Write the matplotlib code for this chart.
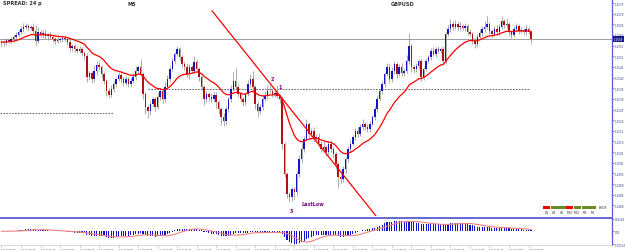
import numpy as np
import pandas as pd
import matplotlib
matplotlib.use('Agg')
import matplotlib.pyplot as plt
from matplotlib.patches import Rectangle

W, H = 625, 253
BASE = 1.25

# GBPUSD M5 closes, in points (0.00001) above BASE
close_pts = [567, 562, 576, 572, 581, 590, 600, 614, 628, 637,
             642, 633, 637, 618, 572, 614, 600, 609, 595, 600,
             590, 581, 572, 576, 581, 586, 581, 567, 539, 548,
             534, 525, 534, 515, 501, 402, 421, 393, 431, 459,
             449, 416, 384, 337, 318, 346, 369, 393, 412, 393,
             374, 393, 369, 384, 402, 431, 449, 416, 322, 261,
             243, 276, 299, 261, 309, 337, 299, 355, 393, 440,
             478, 510, 534, 497, 464, 449, 416, 449, 431, 473,
             440, 402, 355, 299, 322, 309, 299, 318, 285, 252,
             215, 196, 252, 299, 346, 384, 355, 322, 299, 285,
             322, 369, 393, 355, 276, 243, 261, 299, 313, 337,
             337, 322, 327, 313, 299, 88, -53, -147, -161, -124,
             -138, -53, 17, 64, 111, 182, 135, 149, 111, 121,
             88, 64, 73, 51, 88, 64, 41, -6, -68, -77,
             -30, 17, 64, 88, 120, 149, 135, 168, 182, 168,
             158, 182, 215, 252, 299, 337, 369, 416, 449, 393,
             431, 463, 416, 449, 421, 431, 478, 548, 449, 440,
             454, 478, 402, 440, 478, 497, 525, 510, 534, 525,
             534, 478, 604, 628, 651, 637, 651, 637, 642, 633,
             642, 614, 604, 572, 557, 590, 609, 628, 637, 651,
             618, 604, 628, 614, 637, 665, 646, 651, 614, 600,
             628, 642, 618, 623, 614, 628, 614, 581]
first_open_pts = 560

# upper / lower wick length in points
up_pts = [10, 8, 12, 6, 10, 8, 12, 10, 15, 20,
          15, 10, 12, 20, 30, 25, 12, 15, 20, 10,
          12, 8, 10, 25, 10, 12, 8, 10, 15, 10,
          10, 8, 15, 10, 12, 15, 10, 12, 30, 20,
          15, 10, 8, 10, 12, 20, 15, 10, 12, 8,
          10, 12, 8, 15, 20, 25, 10, 40, 10, 12,
          10, 15, 12, 10, 20, 15, 12, 25, 20, 15,
          15, 12, 15, 10, 8, 12, 20, 15, 12, 30,
          15, 10, 12, 8, 15, 10, 20, 12, 15, 8,
          10, 20, 15, 12, 20, 40, 60, 15, 10, 12,
          12, 20, 25, 40, 10, 12, 15, 20, 25, 30,
          30, 15, 20, 40, 10, 15, 10, 8, 12, 10,
          10, 15, 20, 30, 15, 25, 10, 15, 20, 15,
          20, 15, 30, 10, 15, 20, 10, 8, 10, 15,
          15, 10, 15, 20, 10, 15, 20, 15, 25, 10,
          15, 12, 10, 15, 20, 10, 15, 12, 20, 15,
          20, 15, 10, 15, 20, 10, 30, 60, 10, 12,
          15, 10, 12, 10, 15, 10, 12, 20, 10, 12,
          10, 15, 12, 20, 25, 15, 20, 15, 20, 10,
          12, 10, 15, 10, 12, 15, 20, 12, 30, 40,
          12, 10, 15, 20, 15, 25, 10, 30, 12, 10,
          15, 12, 10, 15, 10, 20, 15, 10]
dn_pts = [10, 12, 8, 10, 8, 12, 10, 8, 10, 12,
          10, 12, 10, 15, 20, 12, 10, 15, 12, 20,
          10, 12, 15, 10, 8, 12, 10, 15, 20, 12,
          15, 12, 10, 15, 20, 25, 15, 20, 12, 20,
          15, 20, 12, 25, 15, 10, 12, 15, 10, 20,
          15, 10, 12, 15, 10, 12, 15, 10, 25, 30,
          35, 20, 15, 20, 10, 15, 20, 12, 10, 15,
          10, 12, 8, 15, 20, 15, 12, 25, 10, 15,
          12, 20, 15, 30, 15, 20, 15, 12, 30, 25,
          40, 25, 20, 15, 12, 10, 15, 12, 15, 20,
          15, 10, 12, 20, 25, 30, 15, 12, 10, 15,
          10, 12, 15, 10, 20, 25, 15, 20, 25, 20,
          30, 20, 15, 12, 15, 10, 20, 15, 12, 15,
          12, 15, 10, 20, 15, 12, 20, 25, 50, 20,
          15, 20, 12, 15, 10, 12, 15, 10, 12, 15,
          12, 15, 10, 12, 15, 10, 12, 15, 10, 20,
          15, 12, 20, 10, 15, 12, 10, 15, 25, 20,
          12, 15, 20, 15, 10, 12, 15, 10, 12, 10,
          12, 20, 15, 10, 12, 15, 10, 12, 15, 10,
          15, 12, 10, 15, 20, 12, 10, 15, 12, 10,
          12, 15, 10, 12, 15, 10, 12, 15, 20, 12,
          10, 15, 12, 10, 15, 12, 10, 25]

start_time = '2019-07-17 06:00'
label_every = 8

bid_level = 1.25581
level_hi = 1.25346
level_lo = 1.25233
trend_x = [86.3, 153.5]
trend_y = [1.25713, 1.24750]

price_ticks = [1.2575, 1.2570, 1.2565, 1.2560, 1.2555, 1.2550, 1.2545,
               1.2540, 1.2535, 1.2530, 1.2525, 1.2520, 1.2515, 1.2510,
               1.2505, 1.2500, 1.2495, 1.2490, 1.2485, 1.2480]

tf_names = ['D1', 'H4', 'H1', 'M30', 'M15', 'M5', 'M1']
tf_colors = ['#ff0000', '#6b8e23', '#6b8e23', '#ff0000', '#6b8e23', '#6b8e23', '#6b8e23']

BULL = '#1414c8'
BEAR = '#b01010'
FRAME = '#5a5ad2'

c = BASE + np.array(close_pts) / 1e5
o = np.r_[BASE + first_open_pts / 1e5, c[:-1]]
hi = np.maximum(o, c) + np.array(up_pts) / 1e5
lo = np.minimum(o, c) - np.array(dn_pts) / 1e5
idx = np.arange(len(c))

s = pd.Series(c)
ma = s.ewm(span=20, adjust=False).mean()
macd = s.ewm(span=12, adjust=False).mean() - s.ewm(span=26, adjust=False).mean()
signal = macd.rolling(9, min_periods=1).mean()


def fx(px):
    return px / W


def fy(py):
    return 1 - py / H


def bar_x(px):
    return (px - 1.5) / 2.44


def pts_y(py):
    return 1.257688 - py * 0.00004695


fig = plt.figure(figsize=(W / 100, H / 100), dpi=100)
ax = fig.add_axes([0, fy(217), fx(612), 217 / H])
ax2 = fig.add_axes([0, fy(246), fx(612), 27.5 / H])

xmin, xmax = -0.61, bar_x(612)

# candles
ax.vlines(idx, lo, hi, color='#8c8c8c', lw=0.5, zorder=2)
body = c - o
body = np.where(np.abs(body) < 0.00002, 0.00002, body)
cols = [BULL if cc >= oo else BEAR for oo, cc in zip(o, c)]
ax.bar(idx, body, bottom=o, width=0.62, color=cols, linewidth=0, zorder=3)

ax.plot(idx, ma, color='#ff0000', lw=0.9, zorder=4)
ax.axhline(bid_level, color='#a0a0a0', lw=0.7, zorder=1)
ax.hlines(level_hi, bar_x(148), bar_x(530), color='#505050', lw=0.6,
          linestyles=(0, (2, 1.5)), zorder=1)
ax.hlines(level_lo, xmin, bar_x(113), color='#505050', lw=0.6,
          linestyles=(0, (2, 1.5)), zorder=1)
ax.plot(trend_x, trend_y, color='#ff0000', lw=0.9, zorder=5)

ax.set_xlim(xmin, xmax)
ax.set_ylim(pts_y(217), pts_y(0))
ax.yaxis.tick_right()
ax.set_yticks(price_ticks)
ax.set_yticklabels(['%.4f' % p for p in price_ticks])
ax.tick_params(axis='y', labelsize=2.0, colors=FRAME, length=1.5, width=0.5, pad=0.6,
               labelcolor='#3a3a8a')
ax.set_xticks([])
for sp in ['left', 'top', 'bottom']:
    ax.spines[sp].set_visible(False)
ax.spines['right'].set_color(FRAME)
ax.spines['right'].set_linewidth(0.9)

ax.text(bar_x(272), pts_y(80), '2', color='#800080', fontsize=3.5, fontweight='bold',
        ha='center', va='center')
ax.text(bar_x(280), pts_y(88), '1', color='#800080', fontsize=3.5, fontweight='bold',
        ha='center', va='center')
ax.text(bar_x(291), pts_y(212), '3', color='#800080', fontsize=3.5, fontweight='bold',
        ha='center', va='center')
ax.text(bar_x(302), pts_y(205), 'LastLow', color='#800080', fontsize=3.5,
        fontweight='bold', ha='left', va='center')

# current price box
ax.text(1.003, bid_level, '%.4f' % bid_level, transform=ax.get_yaxis_transform(),
        fontsize=2.0, color='white', ha='left', va='center',
        bbox=dict(boxstyle='square,pad=0.3', fc='#1a1a8a', ec='none'))

fig.text(fx(3), fy(4), 'SPREAD: 24 p', fontsize=3.6, fontweight='bold', color='#303030',
         ha='left', va='center')
fig.text(fx(127), fy(4), 'M5', fontsize=3.6, fontweight='bold', color='#303030',
         ha='left', va='center')
fig.text(fx(391), fy(4), 'GBPUSD', fontsize=3.6, fontweight='bold', color='#303030',
         ha='left', va='center')

# timeframe trend boxes
bx = 543
for name, col in zip(tf_names, tf_colors):
    fig.patches.append(Rectangle((fx(bx), fy(209.5)), fx(7.2), 2.5 / H,
                                 transform=fig.transFigure, fc=col, ec='none'))
    fig.text(fx(bx + 3.6), fy(213), name, fontsize=2.2, color='#303030',
             ha='center', va='center')
    bx += 7.7
fig.text(fx(599), fy(208), 'BHOR', fontsize=2.2, color='#303030', ha='left', va='center')

# MACD panel
ax2.bar(idx, macd, width=0.45, color='#1010d0', linewidth=0)
ax2.plot(idx, signal, color='#f08080', lw=0.8)
m = max(macd.abs().max(), signal.abs().max()) * 1.05
ax2.set_xlim(xmin, xmax)
ax2.set_ylim(-m, m)
ax2.yaxis.tick_right()
ax2.set_yticks([m * 0.9, 0, -m * 0.95])
ax2.set_yticklabels(['%.5f' % m, '0.00', '%.5f' % -m])
ax2.tick_params(axis='y', labelsize=1.8, colors=FRAME, length=1.5, width=0.5, pad=0.6,
                labelcolor='#3a3a8a')

times = pd.date_range(start_time, periods=len(c), freq='5min')
tick_idx = idx[::label_every]
ax2.set_xticks(tick_idx)
ax2.set_xticklabels([times[i].strftime('%d %b %H:%M') for i in tick_idx],
                    ha='left')
ax2.tick_params(axis='x', labelsize=1.7, colors='#9090c0', length=1.5, width=0.4, pad=0.8,
                labelcolor='#3a3a8a')
ax2.spines['left'].set_visible(False)
ax2.spines['top'].set_color(FRAME)
ax2.spines['top'].set_linewidth(1.3)
ax2.spines['right'].set_color(FRAME)
ax2.spines['right'].set_linewidth(0.9)
ax2.spines['bottom'].set_color('#c8c8d8')
ax2.spines['bottom'].set_linewidth(0.5)

fig.savefig('out.png', dpi=100)
